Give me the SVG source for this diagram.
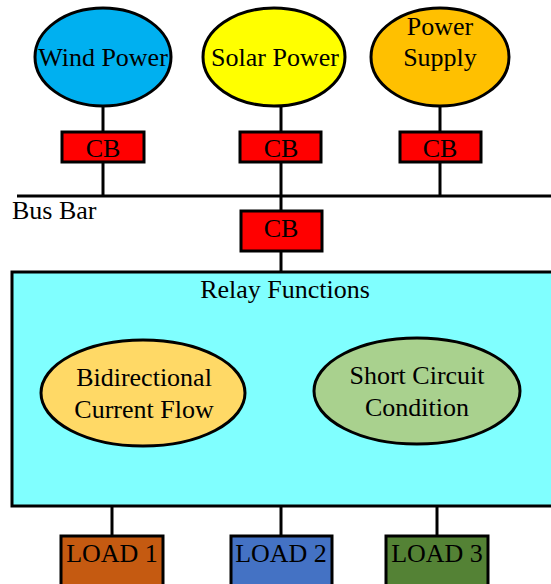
<svg xmlns="http://www.w3.org/2000/svg" width="551" height="584" viewBox="0 0 551 584">
<style>
.s{stroke:#000;stroke-width:3}
.l{stroke:#000;stroke-width:3;fill:none}
text{font-family:"Liberation Serif","Times New Roman",serif;font-size:26px;fill:#000;text-anchor:middle}
</style>
<rect width="551" height="584" fill="#fff"/>
<g id="connectors">
<line class="l" x1="103" y1="106" x2="103" y2="132"/>
<line class="l" x1="281" y1="106" x2="281" y2="132"/>
<line class="l" x1="440" y1="106" x2="440" y2="132"/>
<line class="l" x1="103" y1="162" x2="103" y2="196"/>
<line class="l" x1="281" y1="162" x2="281" y2="196"/>
<line class="l" x1="440" y1="162" x2="440" y2="196"/>
<line class="l" x1="281" y1="196" x2="281" y2="211"/>
<line class="l" x1="281" y1="251" x2="281" y2="272"/>
<line class="l" x1="112" y1="506" x2="112" y2="536"/>
<line class="l" x1="281" y1="506" x2="281" y2="536"/>
<line class="l" x1="437" y1="506" x2="437" y2="536"/>
</g>
<g id="busbar">
<line class="l" x1="17" y1="196" x2="553" y2="196"/>
<text x="12" y="219" style="text-anchor:start">Bus Bar</text>
</g>
<g id="wind"><ellipse class="s" cx="103" cy="57" rx="68" ry="49" fill="#00B0F0"/><text x="103" y="66">Wind Power</text></g>
<g id="solar"><ellipse class="s" cx="274" cy="57" rx="71" ry="49" fill="#FFFF00"/><text x="275" y="66">Solar Power</text></g>
<g id="supply"><ellipse class="s" cx="440" cy="57" rx="69" ry="49" fill="#FFC000"/><text x="440" y="35">Power</text><text x="440" y="66">Supply</text></g>
<g id="cb1"><rect class="s" x="62" y="132" width="82" height="30" fill="#FF0000"/><text x="103" y="157">CB</text></g>
<g id="cb2"><rect class="s" x="240" y="132" width="81" height="30" fill="#FF0000"/><text x="281" y="157">CB</text></g>
<g id="cb3"><rect class="s" x="400" y="132" width="81" height="30" fill="#FF0000"/><text x="440" y="157">CB</text></g>
<g id="cb4"><rect class="s" x="241" y="211" width="81" height="40" fill="#FF0000"/><text x="281" y="237">CB</text></g>
<g id="relay">
<rect class="s" x="12" y="272" width="545" height="234" fill="#80FFFF"/>
<text x="285" y="298">Relay Functions</text>
</g>
<g id="bidir"><ellipse class="s" cx="143" cy="393" rx="102" ry="53" fill="#FFD966"/><text x="144" y="386">Bidirectional</text><text x="144" y="418">Current Flow</text></g>
<g id="short"><ellipse class="s" cx="417" cy="391" rx="103" ry="53" fill="#A9D18E"/><text x="417" y="384">Short Circuit</text><text x="417" y="416">Condition</text></g>
<g id="load1"><rect class="s" x="61" y="536" width="102" height="60" fill="#C55A11"/><text x="112" y="562">LOAD 1</text></g>
<g id="load2"><rect class="s" x="231" y="536" width="101" height="60" fill="#4472C4"/><text x="281" y="562">LOAD 2</text></g>
<g id="load3"><rect class="s" x="386" y="536" width="102" height="60" fill="#548235"/><text x="437" y="562">LOAD 3</text></g>
</svg>
